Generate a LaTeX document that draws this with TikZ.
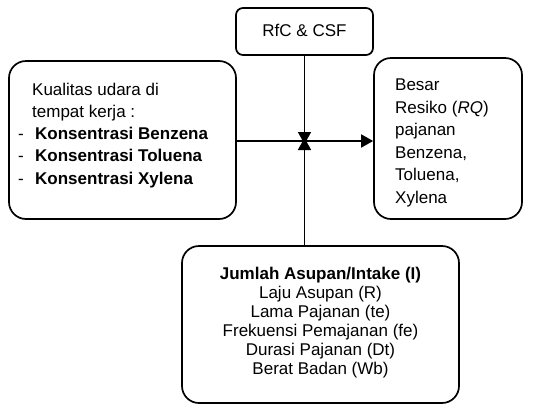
\documentclass[tikz,border=0pt]{standalone}
\usepackage{fontspec}
\setmainfont{Liberation Sans}
\usetikzlibrary{arrows.meta}
\begin{document}
\begin{tikzpicture}[x=1pt,y=-1pt,
  box/.style={draw, line width=1.7pt, inner sep=0pt},
  txt/.style={inner sep=0pt, font=\fontsize{17}{19}\selectfont},
  lt/.style={txt, anchor=base west},
  ct/.style={txt, anchor=base},
  conn/.style={line width=1.7pt, -{Triangle[length=12pt,width=13pt]}}]
\useasboundingbox (0,0) rectangle (533,405);
% boxes
\node[box, rounded corners=7pt, minimum width=137pt, minimum height=47pt] (rfc) at (304.5,31.5) {};
\node[box, rounded corners=17pt, minimum width=227pt, minimum height=158pt] (kual) at (122.5,140) {};
\node[box, rounded corners=17pt, minimum width=148pt, minimum height=161pt] (besar) at (448,138.5) {};
\node[box, rounded corners=17pt, minimum width=277pt, minimum height=157pt] (jumlah) at (320.5,324.5) {};
\coordinate (mid) at (304.5,141);
% texts
\node[ct] (t0) at (304.5,36) {RfC \& CSF};
\node[lt] (k1) at (32,95) {Kualitas udara di};
\node[lt] (k2) at (32,117.3) {tempat kerja :};
\node[lt] (d1) at (18,139) {-};
\node[lt] (d2) at (18,161.5) {-};
\node[lt] (d3) at (18,184) {-};
\node[lt] (k3) at (35,139) {\bfseries Konsentrasi Benzena};
\node[lt] (k4) at (35,161.5) {\bfseries Konsentrasi Toluena};
\node[lt] (k5) at (35,184) {\bfseries Konsentrasi Xylena};
\node[lt] (b1) at (395,90.5) {Besar};
\node[lt] (b2) at (395,113) {Resiko (\textit{RQ})};
\node[lt] (b3) at (395,135.5) {pajanan};
\node[lt] (b4) at (395,158) {Benzena,};
\node[lt] (b5) at (395,180.5) {Toluena,};
\node[lt] (b6) at (395,203) {Xylena};
\node[ct] (j1) at (320.5,279) {\bfseries Jumlah Asupan/Intake (I)};
\node[ct] (j2) at (320.5,298.5) {Laju Asupan (R)};
\node[ct] (j3) at (320.5,317.5) {Lama Pajanan (te)};
\node[ct] (j4) at (320.5,336.5) {Frekuensi Pemajanan (fe)};
\node[ct] (j5) at (320.5,355.5) {Durasi Pajanan (Dt)};
\node[ct] (j6) at (320.5,374.5) {Berat Badan (Wb)};
% connectors
\draw[conn] (kual.east |- mid) -- (besar.west |- mid);
\draw[conn] (rfc.south -| mid) -- ([yshift=-3pt]mid);
\draw[conn] (jumlah.north -| mid) -- ([yshift=3pt]mid);
\end{tikzpicture}
\end{document}
